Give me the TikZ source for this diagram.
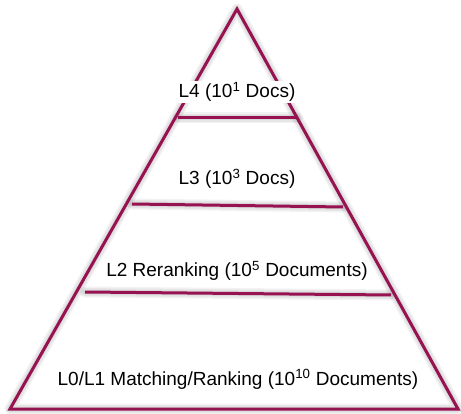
\documentclass[tikz,border=0pt]{standalone}
\usepackage{fontspec}
\setmainfont{Liberation Sans}
\begin{document}
\definecolor{pyr}{RGB}{150,18,80}
\begin{tikzpicture}[x=1pt,y=-1pt,
  edge/.style={draw=pyr,line width=3pt,line join=miter},
  halo/.style={draw=black,line width=#1,opacity=0.05,line join=round,line cap=round},
  label/.style={fill=white,inner sep=1.5pt,font=\fontsize{19}{23}\selectfont,anchor=base}]
\useasboundingbox (0,0) rectangle (461,414);
% corners of the pyramid and the ends of its tier lines
\coordinate (apex) at (237,9);
\coordinate (bl) at (10,409);
\coordinate (br) at (458,409);
\coordinate (a1) at (178,118); \coordinate (a2) at (297,118);
\coordinate (b1) at (132,204); \coordinate (b2) at (343,207);
\coordinate (c1) at (85,292);  \coordinate (c2) at (391,295);
% soft shadow
\begin{scope}[shift={(1.5,2)}]
  \foreach \w in {11,8,5}{
    \draw[halo=\w pt] (apex) -- (br) -- (bl) -- cycle;
    \draw[halo=\w pt] (a1) -- (a2);
    \draw[halo=\w pt] (b1) -- (b2);
    \draw[halo=\w pt] (c1) -- (c2);
  }
\end{scope}
% pyramid outline and tier separators
\draw[edge] (apex) -- (br) -- (bl) -- cycle;
\draw[edge] (a1) -- (a2);
\draw[edge] (b1) -- (b2);
\draw[edge] (c1) -- (c2);
% tier labels
\node[label] (l4) at (237,98) {L4 (10\textsuperscript{1} Docs)};
\node[label] (l3) at (237,185) {L3 (10\textsuperscript{3} Docs)};
\node[label] (l2) at (237,277) {L2 Reranking (10\textsuperscript{5} Documents)};
\node[label] (l0) at (238,385) {L0/L1 Matching/Ranking (10\textsuperscript{10} Documents)};
\end{tikzpicture}
\end{document}
